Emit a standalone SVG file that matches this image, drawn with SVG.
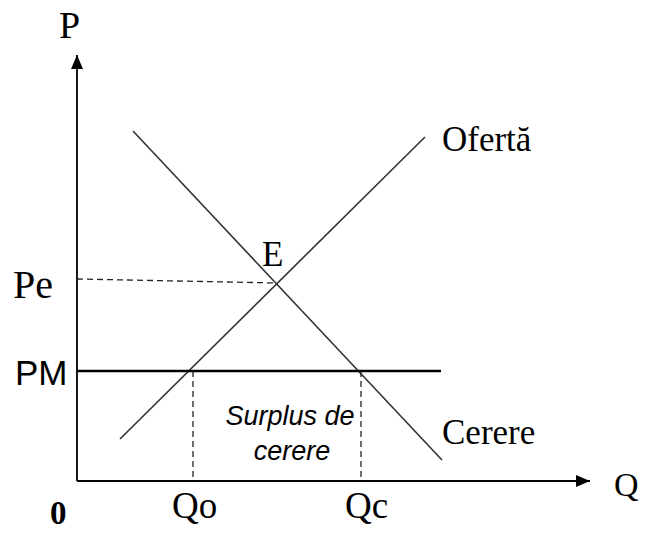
<svg xmlns="http://www.w3.org/2000/svg" width="646" height="533" viewBox="0 0 646 533">
<style>
.serif{font-family:"Liberation Serif","Times New Roman",serif;fill:#000}
.sans{font-family:"Liberation Sans",Arial,sans-serif;fill:#000}
.curve{stroke:#333;stroke-width:1.6;fill:none}
.dash{stroke:#222;stroke-width:1.3;stroke-dasharray:6,4;fill:none}
.axis{stroke:#000;stroke-width:1.8;fill:none}
</style>
<defs>
<marker id="arrB" viewBox="0 0 14 12" refX="14" refY="6" markerWidth="14" markerHeight="12" markerUnits="userSpaceOnUse" orient="auto">
<path d="M0,0 L14,6 L0,12 z" fill="#000"/>
</marker>
</defs>
<g id="connectors">
<line class="axis" x1="77" y1="481" x2="77" y2="55" marker-end="url(#arrB)"/>
<line class="axis" x1="77" y1="481" x2="590" y2="481" marker-end="url(#arrB)"/>
<line id="oferta-line" class="curve" x1="120" y1="439" x2="425" y2="137"/>
<line id="cerere-line" class="curve" x1="133" y1="131" x2="442" y2="460"/>
<line class="dash" x1="77" y1="279" x2="277" y2="283"/>
<line id="pm-line" x1="77" y1="371" x2="441" y2="371" stroke="#000" stroke-width="2.6"/>
<line class="dash" x1="193" y1="371" x2="193" y2="481"/>
<line class="dash" x1="361" y1="371" x2="361" y2="481"/>
</g>
<g id="label-P"><text class="serif" x="59" y="38" font-size="38">P</text></g>
<g id="label-Q"><text class="serif" x="614" y="496" font-size="34">Q</text></g>
<g id="label-0"><text class="serif" x="50" y="524" font-size="33" font-weight="bold">0</text></g>
<g id="label-Pe"><text class="serif" x="13" y="298" font-size="40">Pe</text></g>
<g id="label-PM"><text class="sans" x="15" y="385" font-size="35">PM</text></g>
<g id="label-E"><text class="serif" x="262" y="266" font-size="35">E</text></g>
<g id="label-Oferta"><text class="serif" x="442" y="151" font-size="35">Ofertă</text></g>
<g id="label-Cerere"><text class="serif" x="442" y="444" font-size="35">Cerere</text></g>
<g id="label-Qo"><text class="serif" x="172" y="518" font-size="37">Qo</text></g>
<g id="label-Qc"><text class="serif" x="345" y="518" font-size="37">Qc</text></g>
<g id="label-surplus">
<text class="sans" x="290" y="425" font-size="27" font-style="italic" text-anchor="middle">Surplus de</text>
<text class="sans" x="292" y="460" font-size="27" font-style="italic" text-anchor="middle">cerere</text>
</g>
</svg>
